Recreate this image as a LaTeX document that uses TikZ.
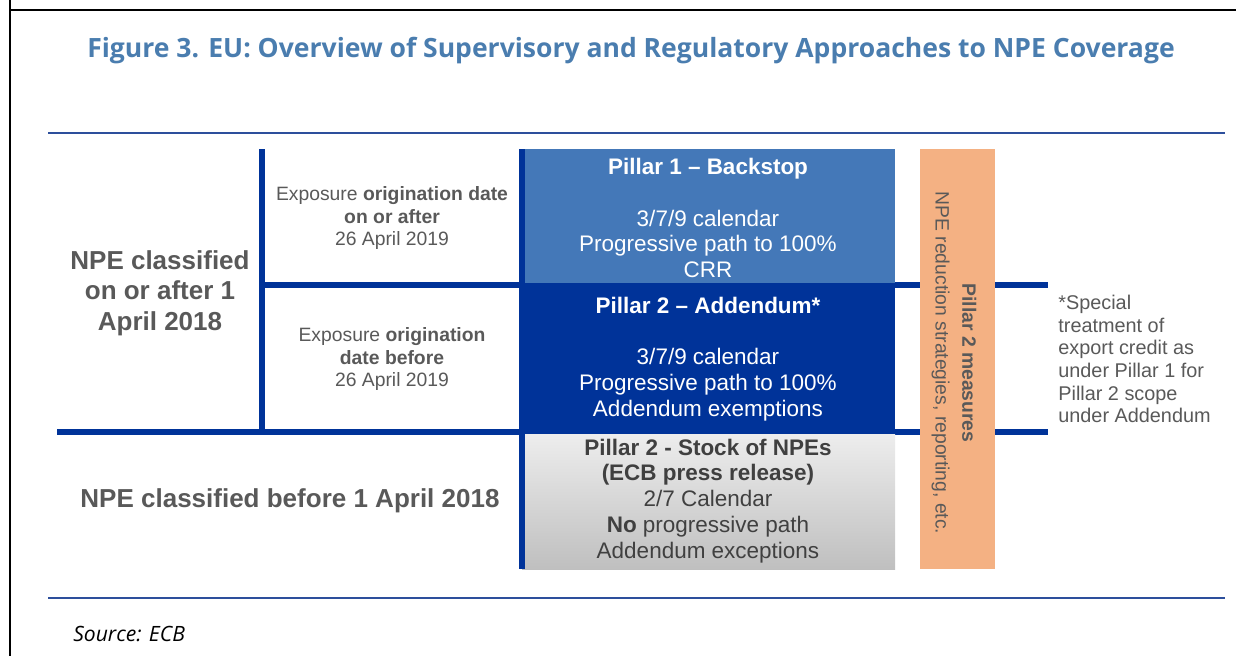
\documentclass[tikz,border=0pt]{standalone}
\usepackage{fontspec}
\setmainfont{Liberation Sans}
\newfontfamily\titlefont{Open Sans}

\definecolor{titleblue}{HTML}{4A7DAF}
\definecolor{ruleblue}{HTML}{2D4F9C}
\definecolor{darkblue}{HTML}{003399}
\definecolor{midblue}{HTML}{4478B8}
\definecolor{txtgray}{HTML}{595959}
\definecolor{boxgray}{HTML}{404040}
\definecolor{peach}{HTML}{F4B183}

\tikzset{
  thickrule/.style={darkblue, line width=3.4pt},
  thinrule/.style={ruleblue, line width=1.1pt},
  bigtext/.style={txtgray, font=\bfseries\fontsize{14.8}{17.3}\selectfont, align=center},
  smalltext/.style={txtgray, font=\fontsize{11}{12.8}\selectfont, align=center},
  pillartext/.style={white, font=\fontsize{12.8}{14.7}\selectfont, align=center}
}

\begin{document}
\begin{tikzpicture}[x=0.02cm, y=-0.02cm] % one unit = one pixel of the reference

        % Define parameters
        \def\boxl{522}  % left edge of the pillar boxes
        \def\boxr{895}  % right edge of the pillar boxes
        \def\ytop{149}
        \def\ymid{285}
        \def\ylow{432}
        \def\ybot{569}

        \useasboundingbox (0,0) rectangle (1236,656);

        % frame
        \draw[black, line width=1.2pt] (10,0) -- (10,10) -- (1236,10);
        \draw[black, line width=1.2pt] (10,10) -- (10,656);

        % title and rules
        \node[titleblue, font=\titlefont\bfseries\fontsize{15.1}{17}\selectfont] (title) at (631,51) {Figure 3. EU: Overview of Supervisory and Regulatory Approaches to NPE Coverage};
        \draw[thinrule] (48,133) -- (1225,133);
        \draw[thinrule] (48,598) -- (1225,598);
        \node[anchor=west, inner sep=0, font=\titlefont\itshape\fontsize{12}{14}\selectfont] (src) at (73,634) {Source: ECB};

        % grid lines
        \draw[thickrule] (262,\ytop) -- (262,\ylow);
        \draw[thickrule] (262,\ymid) -- (1048,\ymid);
        \draw[thickrule] (57,\ylow) -- (1048,\ylow);

        % pillar boxes
        \fill[midblue] (\boxl,\ytop) rectangle (\boxr,\ymid-2);
        \fill[darkblue] (\boxl,\ymid-2) rectangle (\boxr,\ylow+2);
        \shade[top color=gray!14, bottom color=gray!50] (\boxl,\ylow+2) rectangle (\boxr,\ybot);
        \fill[darkblue] (\boxl-3,\ytop) rectangle (\boxl+3,\ybot);

        % measures bar
        \fill[peach] (920,\ytop) rectangle (995,\ybot);

        % labels
        \node[bigtext] (npeNew) at (160,293) {NPE classified\\on or after 1\\April 2018};
        \node[bigtext] (npeOld) at (290,501) {NPE classified before 1 April 2018};
        \node[smalltext] (expAfter) at (392,218) {Exposure \textbf{origination date}\\\textbf{on or after}\\26 April 2019};
        \node[smalltext] (expBefore) at (392,359) {Exposure \textbf{origination}\\\textbf{date before}\\26 April 2019};

        \node[pillartext] (pOne) at (708,218) {\textbf{Pillar 1 -- Backstop}\\[14.7pt]3/7/9 calendar\\Progressive path to 100\%\\CRR};
        \node[pillartext] (pTwo) at (708,359) {\textbf{Pillar 2 -- Addendum*}\\[14.7pt]3/7/9 calendar\\Progressive path to 100\%\\Addendum exemptions};
        \node[pillartext, boxgray] (pStock) at (708,501) {\textbf{Pillar 2 - Stock of NPEs}\\\textbf{(ECB press release)}\\2/7 Calendar\\\textbf{No} progressive path\\Addendum exceptions};

        \node[smalltext, rotate=-90, font=\fontsize{11}{15.3}\selectfont] (measures) at (954,363) {\textbf{Pillar 2 measures}\\NPE reduction strategies, reporting, etc.};

        \node[smalltext, anchor=west, align=left, inner sep=0, font=\fontsize{11.3}{12.9}\selectfont] (note) at (1058,359) {*Special\\treatment of\\export credit as\\under Pillar 1 for\\Pillar 2 scope\\under Addendum};

    \end{tikzpicture}
\end{document}
